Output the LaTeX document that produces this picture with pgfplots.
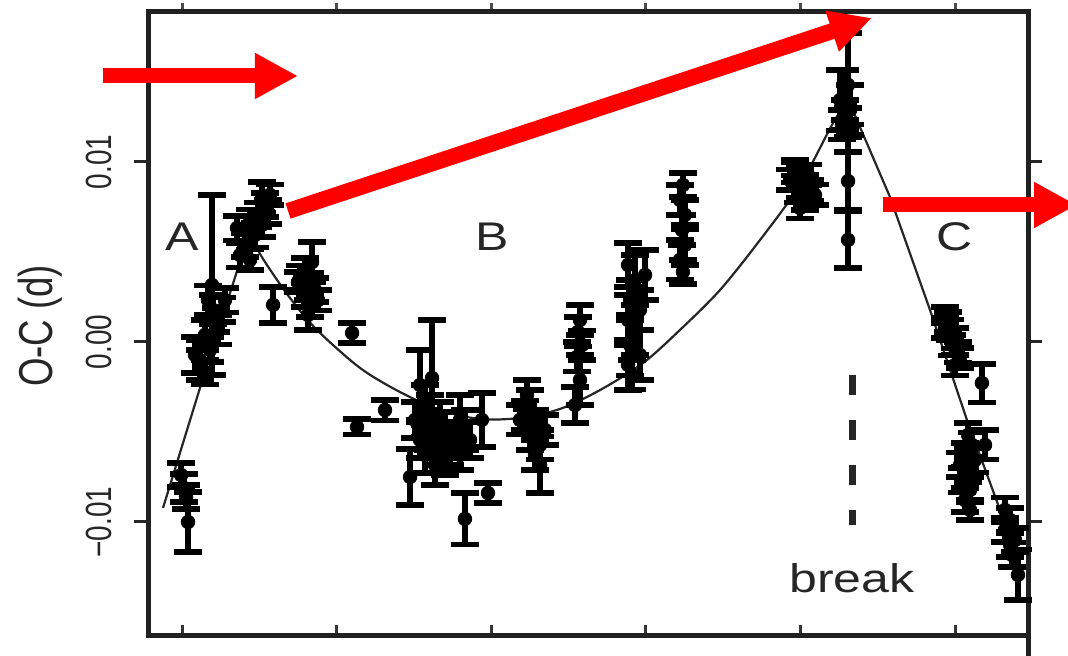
\documentclass[border=0pt]{standalone}
\usepackage{fontspec}
\setmainfont{Liberation Sans}
\usepackage{graphicx}
\usepackage{pgfplots}
\usepackage{pgfplotstable}
\pgfplotsset{compat=1.18}
\usetikzlibrary{arrows.meta}

% horizontally / vertically stretched text
\newcommand\wide[1]{\scalebox{1.25}[1]{#1}}
\newcommand\tall[1]{\scalebox{1}[1.3]{#1}}

% timings: cycle number E, O-C (d), error (d)
\pgfplotstableread{
x y e
-6 -0.00739 0.00067
13 -0.00811 0.00078
26 -0.00861 0.00067
39 -0.01000 0.00167
194 0.00317 0.00500
168 0.00233 0.00083
200 0.00178 0.00083
220 0.00122 0.00067
149 0.00039 0.00083
181 -0.00044 0.00067
84 -0.00072 0.00100
116 -0.00128 0.00083
149 -0.00167 0.00067
116 -0.00100 0.00111
233 0.00067 0.00083
259 0.00178 0.00067
278 0.00233 0.00067
517 0.00800 0.00089
537 0.00761 0.00067
492 0.00706 0.00067
440 0.00667 0.00067
517 0.00650 0.00067
472 0.00594 0.00067
407 0.00539 0.00067
375 0.00483 0.00067
440 0.00456 0.00056
556 0.00722 0.00067
356 0.00633 0.00067
569 0.00817 0.00056
589 0.00206 0.00100
841 0.00444 0.00111
796 0.00400 0.00067
763 0.00356 0.00067
828 0.00317 0.00067
860 0.00289 0.00067
796 0.00261 0.00067
828 0.00206 0.00067
880 0.00233 0.00056
815 0.00150 0.00083
750 0.00333 0.00056
1100 0.00050 0.00056
1132 -0.00472 0.00044
1313 -0.00378 0.00056
1617 -0.00200 0.00322
1539 -0.00239 0.00194
1572 -0.00350 0.00111
1604 -0.00406 0.00111
1507 -0.00433 0.00100
1669 -0.00433 0.00100
1591 -0.00489 0.00111
1701 -0.00489 0.00100
1636 -0.00544 0.00100
1539 -0.00544 0.00100
1733 -0.00572 0.00111
1669 -0.00628 0.00100
1572 -0.00628 0.00100
1636 -0.00683 0.00111
1701 -0.00656 0.00083
1766 -0.00544 0.00100
1475 -0.00750 0.00156
1798 -0.00433 0.00139
1830 -0.00489 0.00111
1863 -0.00544 0.00100
1798 -0.00628 0.00083
1940 -0.00433 0.00150
1830 -0.00983 0.00144
1979 -0.00839 0.00056
2231 -0.00294 0.00083
2251 -0.00350 0.00083
2219 -0.00406 0.00083
2283 -0.00461 0.00083
2251 -0.00517 0.00083
2316 -0.00572 0.00083
2283 -0.00628 0.00083
2316 -0.00683 0.00156
2186 -0.00433 0.00083
2348 -0.00489 0.00083
2574 0.00122 0.00083
2561 0.00056 0.00083
2587 -0.00017 0.00083
2555 -0.00083 0.00083
2574 -0.00211 0.00139
2542 -0.00350 0.00100
2885 0.00428 0.00122
2930 0.00344 0.00139
2995 0.00372 0.00139
2898 0.00233 0.00111
2962 0.00178 0.00111
2885 0.00122 0.00139
2930 0.00067 0.00139
2898 -0.00017 0.00167
2962 -0.00072 0.00139
2885 -0.00128 0.00139
2911 -0.00183 0.00083
3240 0.00872 0.00067
3221 0.00789 0.00083
3253 0.00706 0.00083
3234 0.00622 0.00083
3253 0.00539 0.00111
3221 0.00456 0.00111
3240 0.00389 0.00067
3965 0.00944 0.00056
3997 0.00911 0.00056
4030 0.00872 0.00056
3933 0.00900 0.00056
4062 0.00844 0.00056
3984 0.00833 0.00056
4094 0.00817 0.00056
4030 0.00789 0.00056
3997 0.00744 0.00056
3965 0.00967 0.00044
4049 0.00928 0.00056
4308 0.01428 0.00289
4288 0.01372 0.00139
4256 0.01344 0.00167
4321 0.01317 0.00111
4288 0.01261 0.00083
4269 0.01206 0.00083
4308 0.01178 0.00122
4321 0.01289 0.00139
4308 0.00894 0.00161
4308 0.00567 0.00156
4935 0.00150 0.00044
4954 0.00111 0.00056
4967 0.00067 0.00056
5000 0.00022 0.00056
4980 -0.00017 0.00056
5019 -0.00056 0.00056
5032 -0.00089 0.00056
5000 -0.00128 0.00056
4935 0.00078 0.00056
5174 -0.00228 0.00106
5084 -0.00517 0.00067
5110 -0.00572 0.00067
5064 -0.00628 0.00067
5129 -0.00656 0.00067
5084 -0.00711 0.00067
5045 -0.00767 0.00067
5097 -0.00822 0.00067
5064 -0.00878 0.00067
5097 -0.00933 0.00056
5194 -0.00572 0.00083
5032 -0.00683 0.00067
5323 -0.00933 0.00067
5356 -0.00989 0.00067
5323 -0.01044 0.00067
5388 -0.01100 0.00067
5368 -0.01183 0.00067
5407 -0.01294 0.00139
5356 -0.01128 0.00067
}\obs

% fitted ephemeris, segments A, B, C
\pgfplotstableread{
x y
-123 -0.00922
116 -0.00256
362 0.00411
453 0.00567
}\fitA
\pgfplotstableread{
x y
453 0.00567
537 0.00444
699 0.00244
873 0.00067
1151 -0.00144
1410 -0.00278
1669 -0.00378
1927 -0.00428
2186 -0.00422
2445 -0.00372
2704 -0.00267
2982 -0.00117
3221 0.00067
3480 0.00289
3739 0.00567
3997 0.00872
4204 0.01206
4308 0.01350
}\fitB
\pgfplotstableread{
x y
4308 0.01350
4385 0.01194
4579 0.00806
4838 0.00178
5077 -0.00433
5291 -0.00933
5355 -0.01089
}\fitC

\begin{document}
\begin{tikzpicture}
\path[use as bounding box] (-74pt,-10pt) rectangle (460pt,318pt);
\clip (-74pt,-10pt) rectangle (460pt,318pt);
\pgfplotsset{ocframe/.style={width=440pt,height=312pt,scale only axis,
  at={(0pt,0pt)},anchor=south west,
  xmin=-220,xmax=5472,ymin=-0.016333,ymax=0.018333}}

% top ticks (outward)
\begin{axis}[ocframe, hide y axis, axis x line*=top, axis line style={draw=none},
  xtick={0,1000,...,5000}, xticklabels={}, tick align=outside,
  major tick length=4.5pt, tick style={line width=1.5pt, black!70}]
\end{axis}
% bottom ticks (inward)
\begin{axis}[ocframe, hide y axis, axis x line*=bottom, axis line style={draw=none},
  xtick={0,1000,...,5000}, xticklabels={}, tick align=inside,
  major tick length=5.5pt, tick style={line width=1.5pt, black!80}]
\end{axis}

\begin{axis}[ocframe,
  axis line style={line width=2.5pt, black!87},
  xtick=\empty,
  ytick={-0.01,0,0.01},
  yticklabels={\tall{−0.01},\tall{0.00},\tall{0.01}},
  scaled y ticks=false,
  ytick pos=both,
  tick align=outside, major tick length=7pt,
  tick style={line width=1.5pt, black!85},
  yticklabel style={rotate=90, anchor=base, yshift=11pt,
    font=\fontsize{14pt}{14pt}\selectfont, black!85},
  ylabel={\tall{O-C (d)}},
  ylabel style={at={(axis description cs:-0.109,0.497)}, anchor=base, rotate=0,
    font=\fontsize{18.3pt}{18.3pt}\selectfont, black!85},
  clip=false]

\addplot[black!85, line width=1.1pt] table[x=x,y=y]{\fitA};
\addplot[black!85, line width=1.1pt, smooth] table[x=x,y=y]{\fitB};
\addplot[black!85, line width=1.1pt] table[x=x,y=y]{\fitC};

\addplot[black, only marks, mark=*, mark size=3.4pt,
  error bars/.cd, y dir=both, y explicit,
  error bar style={line width=2.6pt, black},
  error mark options={rotate=90, line width=2.6pt, mark size=7pt, black}]
  table[x=x, y=y, y error=e]{\obs};

% period break
\addplot[black!85, line width=3.5pt, dash pattern=on 10pt off 12.5pt]
  coordinates {(4334,-0.00183) (4334,-0.01017)};

\node[anchor=base, font=\fontsize{20pt}{20pt}\selectfont, black!85] at (axis cs:0,0.00511) {\wide{A}};
\node[anchor=base, font=\fontsize{20pt}{20pt}\selectfont, black!85] at (axis cs:2005,0.00511) {\wide{B}};
\node[anchor=base, font=\fontsize{20pt}{20pt}\selectfont, black!85] at (axis cs:5000,0.00511) {\wide{C}};
\node[anchor=base, font=\fontsize{20pt}{20pt}\selectfont, black!85] at (axis cs:4334,-0.01394) {\wide{break}};

% highlight arrows
\draw[red, line width=7.5pt, -{Triangle[length=21.5pt,width=21.5pt]}]
  (axis cs:-511,0.014778) -- (axis cs:750,0.014778);
\draw[red, line width=8pt, -{Triangle[length=21pt,width=20pt]}]
  (axis cs:686,0.007278) -- (axis cs:4463,0.018);
\draw[red, line width=7.5pt, -{Triangle[length=21.5pt,width=21.5pt]}]
  (axis cs:4534,0.007611) -- (axis cs:5789,0.007611);

\draw[line width=2.5pt, black!87] (rel axis cs:1,0) -- ++(0pt,-10pt);
\end{axis}
\end{tikzpicture}
\end{document}
